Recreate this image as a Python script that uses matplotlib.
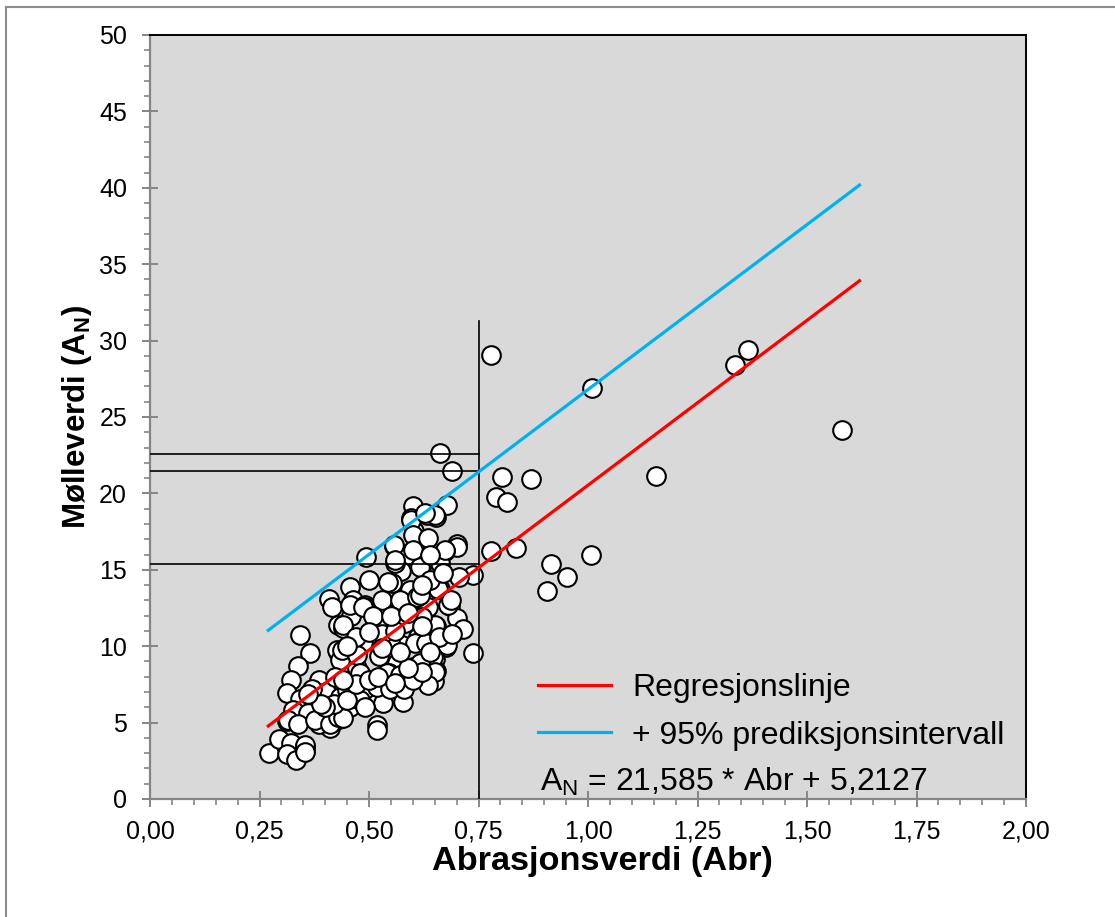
import matplotlib
matplotlib.use("Agg")
import matplotlib.pyplot as plt
from matplotlib.lines import Line2D
from matplotlib.ticker import MultipleLocator, FuncFormatter

plt.rcParams["font.family"] = ["Liberation Sans", "DejaVu Sans"]
plt.rcParams["mathtext.fontset"] = "custom"
plt.rcParams["mathtext.rm"] = "Liberation Sans"
plt.rcParams["mathtext.bf"] = "Liberation Sans:bold"

# measured samples: abrasjonsverdi (x) and mølleverdi (y)
abr = [
    0.662, 0.689, 0.803, 0.790, 0.814, 0.600, 0.677, 0.654, 0.597, 0.632,
    0.603, 0.630, 0.700, 0.700, 0.557, 0.493, 0.586, 0.673, 0.779, 0.662,
    0.619, 0.572, 0.560, 0.738, 0.706, 0.499, 0.553, 0.543, 0.457, 0.661,
    0.613, 0.572, 0.409, 0.464, 0.492, 0.684, 0.700, 0.714, 0.537, 0.460,
    0.440, 0.519, 0.578, 0.653, 0.342, 0.613, 0.575, 0.486, 0.676, 0.738,
    0.365, 0.429, 0.522, 0.563, 0.650, 0.339, 0.472, 0.545, 0.653, 0.323,
    0.385, 0.648, 0.484, 0.312, 0.402, 0.464, 0.507, 0.533, 0.578, 0.342,
    0.457, 0.364, 0.312, 0.432, 0.411, 0.519, 0.518, 0.272, 0.294, 0.323,
    0.353, 0.312, 0.333, 0.355, 0.385, 0.327,
    0.778, 1.009, 1.336, 1.366, 1.579, 0.869, 1.155, 0.836, 1.006, 0.916,
    0.953, 0.906,
    0.438, 0.430, 0.373, 0.434, 0.361, 0.316, 0.339, 0.377, 0.411, 0.430,
    0.354, 0.354, 0.415, 0.441, 0.426, 0.434, 0.422,
    0.457, 0.491, 0.571, 0.441, 0.582, 0.548, 0.605, 0.438, 0.472, 0.601,
    0.479, 0.540, 0.571, 0.449, 0.491, 0.518, 0.548, 0.479, 0.441,
    0.681, 0.651, 0.677, 0.647, 0.616, 0.651, 0.635, 0.635, 0.620,
    0.597, 0.601, 0.556, 0.559, 0.594, 0.529, 0.571, 0.609, 0.487,
    0.651, 0.628, 0.635, 0.673, 0.616, 0.658, 0.688, 0.616,
    0.420, 0.450, 0.470, 0.400, 0.440, 0.500, 0.520, 0.490, 0.370, 0.390,
    0.360, 0.580, 0.600, 0.560, 0.620, 0.590, 0.530, 0.560, 0.510, 0.550,
    0.590, 0.530, 0.570, 0.630, 0.660, 0.690, 0.640, 0.620, 0.470, 0.450,
    0.500, 0.640, 0.670, 0.620, 0.600, 0.640,
]
molle = [
    22.66, 21.44, 21.05, 19.74, 19.44, 19.17, 19.26, 18.48, 18.36, 18.59,
    17.56, 17.00, 16.69, 16.50, 16.56, 15.86, 15.94, 16.25, 16.25, 15.46,
    15.20, 14.94, 15.46, 14.63, 14.54, 14.33, 14.15, 14.20, 13.89, 13.75,
    13.15, 12.85, 13.06, 13.02, 12.70, 12.66, 11.85, 11.15, 12.31, 11.98,
    11.28, 11.41, 11.54, 11.32, 10.75, 10.57, 10.09, 10.27, 9.97, 9.53,
    9.53, 9.62, 9.39, 8.91, 9.17, 8.70, 8.57, 8.22, 8.39, 7.82,
    7.82, 7.69, 7.95, 6.92, 7.00, 6.92, 6.74, 6.30, 6.35, 6.57,
    6.04, 5.56, 5.12, 5.21, 4.65, 4.82, 4.50, 3.03, 3.91, 3.65,
    3.42, 2.93, 2.58, 3.20, 4.94, 5.82,
    29.04, 26.90, 28.42, 29.38, 24.15, 20.92, 21.14, 16.45, 15.94, 15.38,
    14.50, 13.62,
    9.53, 11.39, 6.48, 6.70, 5.60, 5.17, 4.94, 5.17, 4.94, 5.37,
    3.53, 3.09, 12.58, 11.16, 9.75, 9.10, 8.00,
    12.70, 12.58, 12.80, 11.39, 11.49, 10.41, 10.19, 9.75, 9.42, 8.66,
    8.22, 8.22, 8.12, 7.13, 7.23, 7.34, 7.23, 6.48, 5.27,
    12.70, 11.39, 10.08, 9.31, 8.87, 8.33, 7.46, 12.58, 11.93,
    18.26, 17.28, 16.62, 15.64, 13.68, 13.02, 13.02, 13.24, 12.58,
    18.59, 18.70, 17.05, 16.30, 15.20, 13.77, 13.02, 13.35,
    6.20, 6.50, 7.50, 6.00, 7.80, 7.80, 8.00, 6.00, 7.20, 6.20,
    6.90, 7.20, 7.80, 7.60, 8.30, 8.60, 10.80, 11.00, 12.00, 12.00,
    12.20, 9.90, 9.60, 10.20, 10.60, 10.80, 9.60, 11.30, 10.60, 10.00,
    10.90, 14.30, 14.80, 14.00, 16.30, 16.00,
]

# regression and upper 95% prediction line (same slope)
slope = 21.585
icept_pred = 5.2127
icept_reg = -1.05
line_x = [0.27, 1.62]

# reading lines at Abr = 0.75
read_x = 0.75
read_top = 31.3
read_y = [22.6, 21.45, 15.4]

fig = plt.figure(figsize=(11.15, 9.17), dpi=100)
ax = fig.add_axes([150 / 1115, 1 - 799 / 917, 876 / 1115, 764 / 917])
ax.set_facecolor("#d9d9d9")

ax.scatter(abr, molle, s=180, facecolor="white", edgecolor="black",
           linewidth=1.5, zorder=2)

reg_y = [slope * x + icept_reg for x in line_x]
pred_y = [slope * x + icept_pred for x in line_x]
ax.plot(line_x, reg_y, color="#ff0000", lw=2.3, zorder=4, label="Regresjonslinje")
ax.plot(line_x, pred_y, color="#00b0f0", lw=2.3, zorder=4,
        label="+ 95% prediksjonsintervall")

ax.plot([read_x, read_x], [0, read_top], color="black", lw=1.2, zorder=3)
for yv in read_y:
    ax.plot([0, read_x], [yv, yv], color="black", lw=1.2, zorder=3)

ax.set_xlim(0, 2)
ax.set_ylim(0, 50)
ax.xaxis.set_major_locator(MultipleLocator(0.25))
ax.xaxis.set_minor_locator(MultipleLocator(0.05))
ax.yaxis.set_major_locator(MultipleLocator(5))
ax.yaxis.set_minor_locator(MultipleLocator(1))
ax.xaxis.set_major_formatter(FuncFormatter(lambda v, p: f"{v:.2f}".replace(".", ",")))

grey = "#868686"
for side in ["left", "bottom"]:
    ax.spines[side].set_color(grey)
    ax.spines[side].set_linewidth(1.6)
for side in ["top", "right"]:
    ax.spines[side].set_color("black")
    ax.spines[side].set_linewidth(1.4)

ax.tick_params(which="major", direction="inout", length=11, width=1.4,
               color=grey, labelsize=18)
ax.tick_params(which="minor", direction="out", length=4.5, width=1.2, color=grey)
ax.tick_params(axis="y", which="major", pad=11)
ax.tick_params(axis="x", which="major", pad=9)

ax.set_xlabel("Abrasjonsverdi (Abr)", fontsize=24.7, fontweight="bold")
ax.xaxis.set_label_coords(0.516, -0.062)
ax.set_ylabel(r"Mølleverdi (A$\mathregular{_N}$)", fontsize=22.5, fontweight="bold")
ax.yaxis.set_label_coords(-0.064, 0.50)

leg = ax.legend(loc="upper left", bbox_to_anchor=((538 - 150) / 876, (799 - 673) / 764),
                frameon=False, fontsize=23, handlelength=2.3, handletextpad=0.65,
                borderpad=0, labelspacing=0.55, borderaxespad=0)
ax.text((540 - 150) / 876, (799 - 782) / 764,
        r"A$\mathregular{_N}$ = 21,585 * Abr + 5,2127",
        transform=ax.transAxes, fontsize=23, va="center", ha="left")

# outer chart frame (top and left edges visible)
fx, fy = 6 / 1115, 1 - 7 / 917
fig.add_artist(Line2D([fx, fx], [0, fy], color="#8c8c8c", lw=1.5))
fig.add_artist(Line2D([fx, 1], [fy, fy], color="#8c8c8c", lw=1.5))

fig.savefig("out.png", dpi=100)
